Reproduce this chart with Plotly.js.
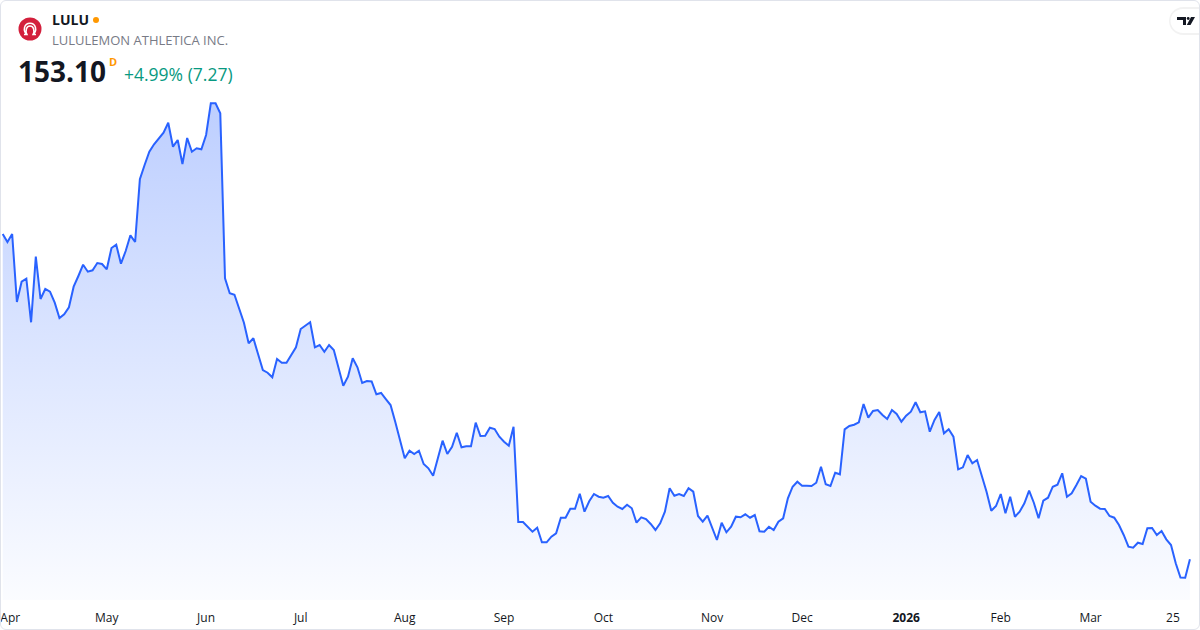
<!DOCTYPE html>
<html>
<head>
<meta charset="utf-8">
<script src="https://cdn.plot.ly/plotly-3.0.1.min.js"></script>
<style>
  html, body { margin: 0; padding: 0; background: #ffffff; }
  #wrap { position: relative; width: 1200px; height: 630px; overflow: hidden; }
  #chart { width: 1200px; height: 630px; }
  #frame { position: absolute; left: 0; top: 0; width: 1200px; height: 630px; box-sizing: border-box;
           border: 1px solid #e0e3eb; border-radius: 6px; pointer-events: none; }
</style>
</head>
<body>
<div id="wrap"><div id="chart"></div><div id="frame"></div></div>
<script>
// ---- Data: LULU daily closes, one per trading day (31 Mar 2025 -> end of Mar 2026) ----
const symbol = "LULU";
const companyName = "LULULEMON ATHLETICA INC.";
const lastPrice = "153.10";
const changeText = "+4.99% (7.27)";

const closes = [
  281.63, 278.47, 281.63, 254.76, 262.78, 263.97, 246.74, 272.66, 255.95, 259.90,
  258.83, 254.48, 248.44, 249.90, 252.67, 260.81, 265.03, 269.50, 266.73, 267.28,
  270.17, 269.77, 267.68, 276.10, 277.40, 269.89, 274.91, 281.11, 278.47, 303.24,
  308.89, 314.14, 317.07, 319.44, 321.65, 325.60, 316.12, 318.77, 309.28, 319.56,
  314.14, 315.49, 315.09, 320.74, 333.27, 333.27, 329.31, 264.12, 258.20, 257.64,
  252.27, 246.58, 238.44, 240.42, 234.10, 227.89, 226.83, 225.01, 232.24, 230.78,
  230.78, 234.10, 236.86, 244.09, 245.28, 246.74, 236.86, 237.77, 235.12, 237.77,
  235.79, 229.20, 221.69, 225.25, 232.52, 228.96, 222.76, 223.55, 223.35, 218.29,
  218.81, 216.43, 214.06, 207.35, 199.56, 193.01, 196.01, 194.70, 196.01, 190.75,
  189.05, 186.13, 193.01, 199.96, 194.70, 197.59, 203.12, 197.35, 197.75, 197.75,
  207.07, 201.82, 201.93, 205.10, 204.58, 201.54, 199.56, 197.98, 205.49, 167.84,
  167.84, 165.74, 164.00, 165.59, 159.82, 159.82, 162.03, 163.37, 169.54, 169.54,
  173.09, 173.09, 179.02, 171.91, 176.02, 178.90, 177.83, 177.44, 178.11, 175.46,
  173.88, 172.97, 174.67, 173.25, 167.56, 169.69, 169.02, 167.05, 164.68, 167.32,
  171.91, 181.15, 178.23, 178.90, 178.11, 181.15, 179.81, 170.21, 167.96, 170.33,
  165.35, 160.73, 167.56, 163.77, 165.98, 169.93, 169.69, 170.88, 169.54, 170.60,
  164.16, 164.00, 165.98, 164.68, 167.96, 169.30, 177.20, 181.78, 183.76, 182.18,
  182.18, 182.06, 183.36, 189.69, 182.73, 182.06, 187.32, 186.68, 204.46, 205.77,
  206.28, 207.23, 214.46, 209.05, 211.69, 212.09, 210.11, 208.53, 212.09, 210.51,
  207.47, 209.84, 211.42, 215.13, 211.18, 211.57, 203.51, 208.14, 211.30, 202.88,
  204.46, 201.54, 188.66, 189.45, 194.31, 191.03, 192.33, 186.41, 179.81, 172.30,
  174.16, 178.90, 171.27, 177.83, 169.93, 171.91, 175.23, 180.20, 175.46, 169.30,
  176.25, 177.44, 181.78, 182.57, 187.08, 177.83, 179.18, 182.46, 186.01, 184.95,
  175.86, 174.28, 173.09, 172.97, 170.21, 169.54, 166.65, 162.70, 158.08, 157.68,
  159.66, 159.15, 165.35, 165.47, 162.70, 164.28, 161.00, 158.75, 151.52, 145.90,
  145.83, 153.10
];

// Axis labels: trading-day index of each label and its text
const tickIndex = [1.6, 22, 43, 63, 85, 106, 127, 150, 169, 191, 211, 230, 247.4];
const tickLabels = ["Apr", "May", "Jun", "Jul", "Aug", "Sep", "Oct", "Nov", "Dec", "<b>2026</b>", "Feb", "Mar", "25"];

// ---- Build ----
const dayIndex = closes.map((_, i) => i);
const W = 1200, PLOT_H = 600;
const px = x => x / W;
const py = y => (PLOT_H - y) / PLOT_H;
const FONT = '"Open Sans", "DejaVu Sans", sans-serif';

const trace = {
  type: 'scatter',
  mode: 'lines',
  x: dayIndex,
  y: closes,
  line: { color: '#2962FF', width: 2 },
  fill: 'tozeroy',
  fillcolor: 'rgba(41,98,255,0.15)',
  fillgradient: {
    type: 'vertical',
    start: 137,
    stop: 335,
    colorscale: [[0, 'rgba(41,98,255,0.02)'], [1, 'rgba(41,98,255,0.31)']]
  },
  hoverinfo: 'skip'
};

const shapes = [
  // logo circle
  { type: 'circle', xref: 'paper', yref: 'paper',
    x0: px(18.5), x1: px(41.5), y0: py(40.5), y1: py(17.5),
    fillcolor: '#D31F3C', line: { width: 0 } },
  // logo glyph
  { type: 'path', xref: 'paper', yref: 'paper', xsizemode: 'pixel', ysizemode: 'pixel',
    xanchor: px(30), yanchor: py(29),
    path: 'M -6 -5.5 L -3 -5.5 C -5 -1.5 -3.5 3 0 3 C 3.5 3 5 -1.5 3 -5.5 L 6 -5.5 M -3 -5.5 C -7.5 -2 -6 5.8 0 5.8 C 6 5.8 7.5 -2 3 -5.5',
    line: { color: '#ffffff', width: 1.5 } },
  // market status dot
  { type: 'circle', xref: 'paper', yref: 'paper',
    x0: px(93), x1: px(99), y0: py(23), y1: py(17),
    fillcolor: '#FF9800', line: { width: 0 } },
  // TV badge shadow + pill
  { type: 'path', xref: 'paper', yref: 'paper', xsizemode: 'pixel', ysizemode: 'pixel',
    xanchor: px(1169), yanchor: py(21),
    path: 'M 14 14 L 42 14 L 42 -14 L 14 -14 C 6 -14 0 -7.5 0 0 C 0 7.5 6 14 14 14 Z',
    fillcolor: 'rgba(0,0,0,0.05)', line: { width: 0 } },
  { type: 'path', xref: 'paper', yref: 'paper', xsizemode: 'pixel', ysizemode: 'pixel',
    xanchor: px(1170.5), yanchor: py(21),
    path: 'M 12.5 12 L 40 12 L 40 -12 L 12.5 -12 C 5.5 -12 0 -6.5 0 0 C 0 6.5 5.5 12 12.5 12 Z',
    fillcolor: '#ffffff', line: { width: 0 } },
  // TV logo
  { type: 'path', xref: 'paper', yref: 'paper', xsizemode: 'pixel', ysizemode: 'pixel',
    xanchor: px(1177), yanchor: py(21),
    path: 'M 0 4 L 9 4 L 9 -4 L 6 -4 L 6 1 L 0 1 Z',
    fillcolor: '#131722', line: { width: 0 } },
  { type: 'circle', xref: 'paper', yref: 'paper', xsizemode: 'pixel', ysizemode: 'pixel',
    xanchor: px(1177), yanchor: py(21),
    x0: 9.8, x1: 12.6, y0: 3.9, y1: 1.1,
    fillcolor: '#131722', line: { width: 0 } },
  { type: 'path', xref: 'paper', yref: 'paper', xsizemode: 'pixel', ysizemode: 'pixel',
    xanchor: px(1177), yanchor: py(21),
    path: 'M 14 4 L 18 4 L 13.5 -4 L 9.8 -4 Z',
    fillcolor: '#131722', line: { width: 0 } }
];

const annotations = [
  { text: '<b>' + symbol + '</b>', x: px(50), y: py(20), xref: 'paper', yref: 'paper',
    xanchor: 'left', yanchor: 'middle', showarrow: false,
    font: { family: FONT, size: 14, color: '#131722' } },
  { text: companyName, x: px(50), y: py(40), xref: 'paper', yref: 'paper',
    xanchor: 'left', yanchor: 'middle', showarrow: false,
    font: { family: FONT, size: 13, color: '#787B86' } },
  { text: '<b>' + lastPrice + '</b>', x: px(16), y: py(71), xref: 'paper', yref: 'paper',
    xanchor: 'left', yanchor: 'middle', showarrow: false,
    font: { family: FONT, size: 28, color: '#131722' } },
  { text: '<b>D</b>', x: px(113), y: py(61), xref: 'paper', yref: 'paper',
    xanchor: 'center', yanchor: 'middle', showarrow: false,
    font: { family: FONT, size: 11, color: '#FF9800' } },
  { text: changeText, x: px(122), y: py(74), xref: 'paper', yref: 'paper',
    xanchor: 'left', yanchor: 'middle', showarrow: false,
    font: { family: FONT, size: 17.5, color: '#089981' } }
];

const layout = {
  width: 1200,
  height: 630,
  margin: { l: 0, r: 0, t: 0, b: 30, pad: 0 },
  paper_bgcolor: '#ffffff',
  plot_bgcolor: '#ffffff',
  showlegend: false,
  xaxis: {
    range: [-0.571, 253.13],
    showgrid: false, zeroline: false, showline: false,
    ticks: '', tickmode: 'array', tickvals: tickIndex, ticktext: tickLabels,
    ticklabelstandoff: 9,
    tickfont: { family: FONT, size: 12, color: '#131722' },
    fixedrange: true
  },
  yaxis: {
    range: [137.02, 374.08],
    visible: false, showgrid: false, zeroline: false,
    fixedrange: true
  },
  shapes: shapes,
  annotations: annotations,
  hovermode: false
};

Plotly.newPlot('chart', [trace], layout, { displayModeBar: false, staticPlot: true });
</script>
</body>
</html>
